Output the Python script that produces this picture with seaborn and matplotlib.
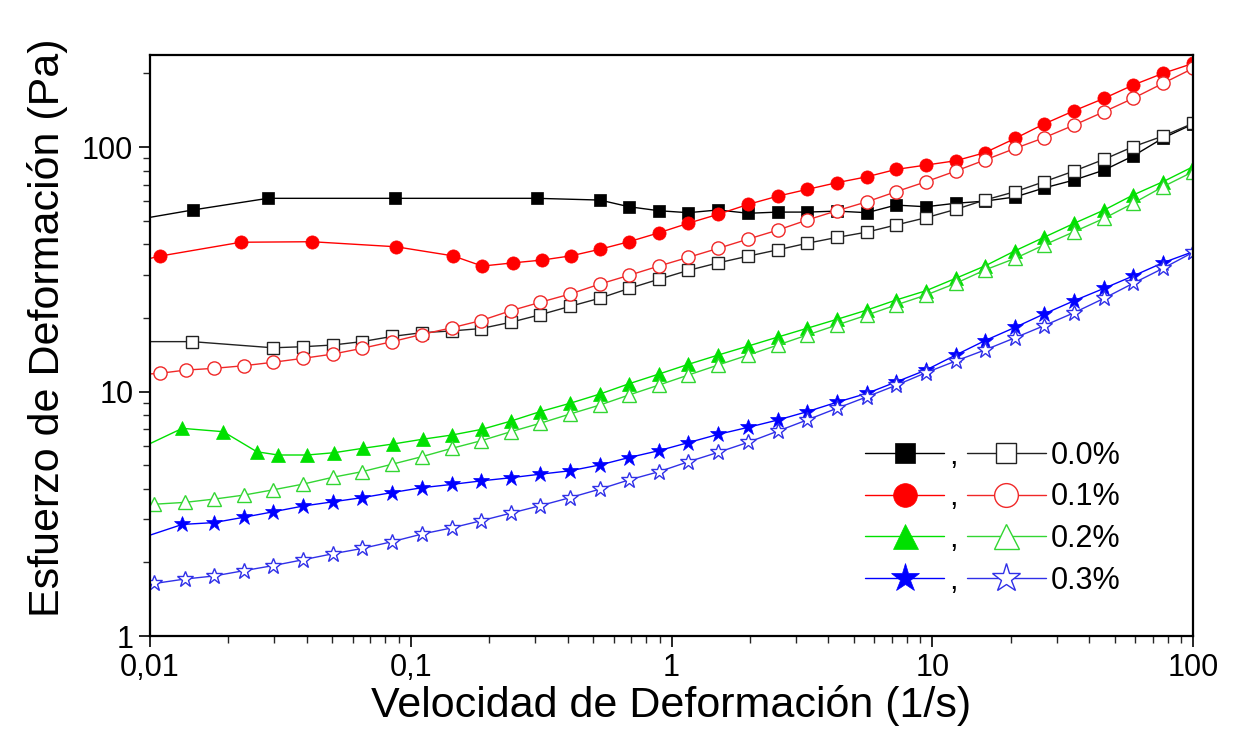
import numpy as np
import pandas as pd
import seaborn as sns
import matplotlib
matplotlib.use("Agg")
import matplotlib.pyplot as plt
from matplotlib.ticker import FixedLocator, FixedFormatter, LogLocator, NullFormatter

# ---------------- data ----------------
# 0.0 % -- filled squares / open squares
x_f00 = [0.0092, 0.0146, 0.0283, 0.0870, 0.305, 0.532, 0.687, 0.895, 1.16, 1.51, 1.97, 2.56, 3.31,
         4.31, 5.62, 7.26, 9.46, 12.3, 15.9, 20.8, 26.8, 35.0, 45.6, 58.9, 76.7, 100]
y_f00 = [50.8, 55.3, 61.7, 61.7, 61.7, 60.7, 57.0, 54.9, 53.9, 55.3, 53.6, 54.2, 54.2,
         54.7, 53.9, 57.9, 57.0, 58.9, 60.1, 62.5, 68.0, 73.3, 80.5, 91.9, 108.8, 124.2]
x_o00 = [0.0090, 0.0145, 0.0296, 0.0386, 0.0503, 0.065, 0.0847, 0.110, 0.144, 0.186, 0.242, 0.313,
         0.408, 0.532, 0.687, 0.895, 1.16, 1.51, 1.97, 2.56, 3.31, 4.31, 5.62, 7.26, 9.46, 12.3,
         15.9, 20.8, 26.8, 35.0, 45.6, 58.9, 76.7, 100]
y_o00 = [16.0, 16.0, 15.1, 15.25, 15.5, 16.0, 16.8, 17.4, 17.7, 18.1, 19.2, 20.6,
         22.3, 24.1, 26.4, 28.8, 31.3, 33.6, 35.8, 38.0, 40.4, 42.7, 44.9, 48.0, 51.4, 55.6,
         60.7, 65.7, 72.1, 79.8, 89.1, 100.3, 110.9, 125.0]

# 0.1 % -- filled circles / open circles
x_f01 = [0.0092, 0.0109, 0.0223, 0.0418, 0.0878, 0.145, 0.188, 0.247, 0.319, 0.412, 0.532, 0.687,
         0.895, 1.16, 1.51, 1.97, 2.56, 3.31, 4.31, 5.62, 7.26, 9.46, 12.3, 15.9, 20.8, 26.8,
         35.0, 45.6, 58.9, 76.7, 100]
y_f01 = [34.3, 35.8, 40.8, 41.0, 39.1, 35.9, 32.6, 33.6, 34.5, 35.9, 38.2, 41.0,
         44.6, 48.8, 53.1, 58.3, 63.0, 67.1, 71.5, 75.6, 81.0, 84.4, 87.9, 94.8, 108.5, 124.2,
         140.8, 158.2, 179.3, 200.2, 219.9]
x_o01 = [0.0092, 0.0109, 0.0137, 0.0176, 0.0229, 0.0296, 0.0386, 0.0503, 0.065, 0.0847, 0.110,
         0.144, 0.186, 0.242, 0.313, 0.408, 0.532, 0.687, 0.895, 1.16, 1.51, 1.97, 2.56, 3.31,
         4.31, 5.62, 7.26, 9.46, 12.3, 15.9, 20.8, 26.8, 35.0, 45.6, 58.9, 76.7, 100]
y_o01 = [11.74, 11.87, 12.24, 12.44, 12.75, 13.17, 13.67, 14.23, 15.02, 15.99, 17.11,
         18.24, 19.51, 21.41, 23.16, 25.05, 27.53, 29.88, 32.61, 35.39, 38.52, 42.05, 45.77, 50.29,
         54.91, 59.74, 65.65, 72.14, 79.77, 88.47, 98.78, 109.1, 123.0, 139.5, 158.2, 182.2, 209.9]

# 0.2 % -- filled triangles / open triangles
x_f02 = [0.0092, 0.0133, 0.0191, 0.0257, 0.0310, 0.0400, 0.0508, 0.0656, 0.0855, 0.111, 0.144,
         0.188, 0.242, 0.313, 0.408, 0.532, 0.687, 0.895, 1.16, 1.51, 1.97, 2.56, 3.31, 4.31,
         5.62, 7.26, 9.46, 12.3, 15.9, 20.8, 26.8, 35.0, 45.6, 58.9, 76.7, 100]
y_f02 = [5.87, 7.07, 6.85, 5.67, 5.50, 5.50, 5.62, 5.86, 6.10, 6.38, 6.64,
         7.01, 7.57, 8.27, 8.95, 9.77, 10.76, 11.79, 12.92, 14.10, 15.35, 16.71, 18.14, 19.74,
         21.54, 23.67, 25.84, 29.04, 32.61, 37.66, 42.72, 48.75, 55.25, 63.64, 72.14, 83.08]
x_o02 = [0.0104, 0.0136, 0.0176, 0.0229, 0.0296, 0.0386, 0.0503, 0.065, 0.0847, 0.110, 0.144,
         0.186, 0.242, 0.313, 0.408, 0.532, 0.687, 0.895, 1.16, 1.51, 1.97, 2.56, 3.31, 4.31,
         5.62, 7.26, 9.46, 12.3, 15.9, 20.8, 26.8, 35.0, 45.6, 58.9, 76.7, 100]
y_o02 = [3.46, 3.52, 3.63, 3.77, 3.96, 4.18, 4.46, 4.70, 5.04, 5.41, 5.86,
         6.29, 6.85, 7.41, 8.09, 8.81, 9.68, 10.63, 11.68, 12.84, 14.10, 15.50, 17.02, 18.71,
         20.55, 22.59, 24.81, 27.70, 31.40, 35.06, 39.73, 45.04, 51.10, 58.86, 68.82, 79.25]

# 0.3 % -- filled stars / open stars
x_f03 = [0.0092, 0.0133, 0.0176, 0.0229, 0.0296, 0.0386, 0.0503, 0.065, 0.0847, 0.110, 0.144,
         0.186, 0.242, 0.313, 0.408, 0.532, 0.687, 0.895, 1.16, 1.51, 1.97, 2.56, 3.31, 4.31,
         5.62, 7.26, 9.46, 12.3, 15.9, 20.8, 26.8, 35.0, 45.6, 58.9, 76.7, 100]
y_f03 = [2.51, 2.86, 2.91, 3.06, 3.22, 3.40, 3.54, 3.68, 3.86, 4.04, 4.17,
         4.31, 4.44, 4.59, 4.74, 5.01, 5.37, 5.73, 6.18, 6.68, 7.14, 7.65, 8.27, 9.04,
         9.83, 10.94, 12.24, 14.10, 16.14, 18.31, 20.75, 23.52, 26.43, 29.68, 33.64, 37.31]
x_o03 = [0.0104, 0.0136, 0.0176, 0.0229, 0.0296, 0.0386, 0.0503, 0.065, 0.0847, 0.110, 0.144,
         0.186, 0.242, 0.313, 0.408, 0.532, 0.687, 0.895, 1.16, 1.51, 1.97, 2.56, 3.31, 4.31,
         5.62, 7.26, 9.46, 12.3, 15.9, 20.8, 26.8, 35.0, 45.6, 58.9, 76.7, 100]
y_o03 = [1.64, 1.71, 1.76, 1.85, 1.94, 2.05, 2.17, 2.28, 2.43, 2.61, 2.77,
         2.96, 3.18, 3.41, 3.68, 3.99, 4.35, 4.70, 5.16, 5.64, 6.20, 6.89, 7.65, 8.54,
         9.52, 10.60, 11.94, 13.33, 14.78, 16.60, 18.58, 21.01, 24.06, 27.70, 31.90, 37.10]

legend_labels = ["0.0%", "0.1%", "0.2%", "0.3%"]
x_ticks = [0.01, 0.1, 1, 10, 100]
x_tick_labels = ["0,01", "0,1", "1", "10", "100"]
y_ticks = [1, 10, 100]
y_tick_labels = ["1", "10", "100"]

# ---------------- styling ----------------
sns.set_theme(style="white")
plt.rcParams["font.family"] = ["Liberation Sans", "DejaVu Sans"]
plt.rcParams["text.color"] = "black"
plt.rcParams["axes.labelcolor"] = "black"

fig = plt.figure(figsize=(12.34, 7.42), dpi=100)
ax = fig.add_axes([150 / 1234, 1 - 636 / 742, (1193 - 150) / 1234, (636 - 55) / 742])
ax.set_xscale("log")
ax.set_yscale("log")

series = [
    # (x, y, color, marker, ms, filled)
    (x_f00, y_f00, "#000000", "s", 8.0, True),
    (x_o00, y_o00, "#222222", "s", 8.0, False),
    (x_f01, y_f01, "#ff0000", "o", 9.5, True),
    (x_o01, y_o01, "#f02828", "o", 9.5, False),
    (x_f02, y_f02, "#00e000", "^", 10.0, True),
    (x_o02, y_o02, "#33d633", "^", 10.0, False),
    (x_f03, y_f03, "#0000ff", "*", 12.0, True),
    (x_o03, y_o03, "#3030e8", "*", 12.0, False),
]

handles = []
for xs, ys, col, mk, ms, filled in series:
    df = pd.DataFrame({"x": xs, "y": ys})
    n_before = len(ax.lines)
    sns.lineplot(data=df, x="x", y="y", ax=ax, sort=False, estimator=None, legend=False,
                 color=col, linewidth=1.0, marker=mk, markersize=ms,
                 markerfacecolor=col if filled else "white",
                 markeredgecolor=col, markeredgewidth=1.0 if not filled else 0.5)
    handles.append(ax.lines[n_before])

ax.set_xlim(0.01, 100)
ax.set_ylim(1, 238)

ax.xaxis.set_major_locator(FixedLocator(x_ticks))
ax.xaxis.set_major_formatter(FixedFormatter(x_tick_labels))
ax.xaxis.set_minor_locator(LogLocator(base=10, subs=np.arange(2, 10)))
ax.xaxis.set_minor_formatter(NullFormatter())
ax.yaxis.set_major_locator(FixedLocator(y_ticks))
ax.yaxis.set_major_formatter(FixedFormatter(y_tick_labels))
ax.yaxis.set_minor_locator(LogLocator(base=10, subs=np.arange(2, 10)))
ax.yaxis.set_minor_formatter(NullFormatter())

ax.tick_params(axis="both", which="major", direction="out", length=8, width=1.2,
               labelsize=22, colors="black", bottom=True, left=True, top=False, right=False, pad=4)
ax.tick_params(axis="both", which="minor", direction="out", length=5, width=1.0,
               bottom=True, left=True, top=False, right=False)

for sp in ax.spines.values():
    sp.set_color("black")
    sp.set_linewidth(1.6)
ax.grid(False)

ax.set_xlabel("Velocidad de Deformación (1/s)", fontsize=31, labelpad=2, color="black")
ax.set_ylabel("Esfuerzo de Deformación (Pa)", fontsize=31, labelpad=10, color="black")
ax.yaxis.label.set_y(0.53)

filled_h = handles[0::2]
open_h = handles[1::2]
leg = ax.legend(filled_h + open_h, [","] * 4 + legend_labels, ncol=2, frameon=False,
                loc="upper center", bbox_to_anchor=(0.808, 0.373), fontsize=22,
                handlelength=2.6, handletextpad=0.15, columnspacing=0.3,
                labelspacing=0.38, markerscale=1.8, borderpad=0.2)
for t in leg.get_texts():
    t.set_color("black")

fig.savefig("out.png", dpi=100)
